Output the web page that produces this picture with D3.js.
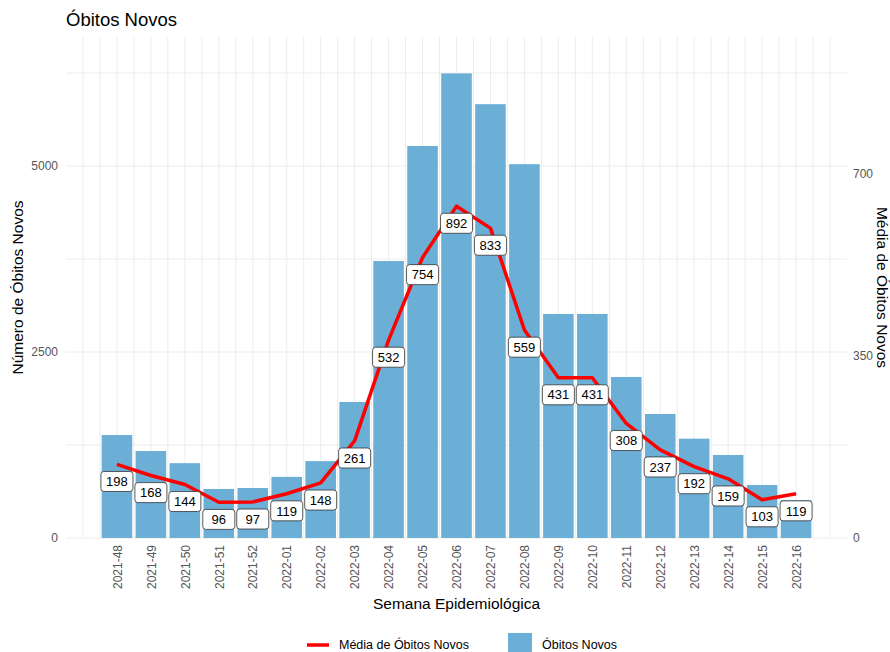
<!DOCTYPE html>
<html>
<head>
<meta charset="utf-8">
<script src="https://cdn.jsdelivr.net/npm/d3@7"></script>
<style>
  body { margin: 0; background: #fff; }
  text { font-family: "Liberation Sans", Arial, sans-serif; }
</style>
</head>
<body>
<svg id="chart"></svg>
<script>
// weeks, weekly deaths (bars) and daily average (line, labels)
var semanas = ["2021-48", "2021-49", "2021-50", "2021-51", "2021-52", "2022-01", "2022-02",
  "2022-03", "2022-04", "2022-05", "2022-06", "2022-07", "2022-08", "2022-09", "2022-10",
  "2022-11", "2022-12", "2022-13", "2022-14", "2022-15", "2022-16"];
var obitos = [1384, 1169, 1006, 659, 672, 822, 1033, 1828, 3723, 5269, 6245, 5831, 5025,
  3011, 3011, 2164, 1667, 1335, 1116, 712, 510];
var media = [198, 168, 144, 96, 97, 119, 148, 261, 532, 754, 892, 833, 559, 431, 431,
  308, 237, 192, 159, 103, 119];
var leftTicks = [0, 2500, 5000];
var rightTicks = [0, 350, 700];

var W = 890, H = 652;
var margin = { top: 37, right: 43, bottom: 114, left: 66 };
var width = W - margin.left - margin.right;
var height = H - margin.top - margin.bottom;

var lineScale = 5;   // line drawn as media * 5 on the primary axis
var secScale = 7;    // secondary axis labels = primary / 7

var svg = d3.select("#chart").attr("width", W).attr("height", H);

svg.append("text")
  .attr("x", margin.left).attr("y", 26)
  .attr("font-size", 18.5).attr("fill", "#000")
  .text("Óbitos Novos");

var g = svg.append("g")
  .attr("transform", "translate(" + margin.left + "," + margin.top + ")");

var x = d3.scalePoint()
  .domain(semanas)
  .range([0, width])
  .padding(1.5);
var step = x.step();
var bw = step * 0.9;

var y = d3.scaleLinear()
  .domain([0, 6734])
  .range([height, 0]);

// grid
var gridY = d3.range(0, 6251, 1250);
g.selectAll(".hgrid")
  .data(gridY)
  .enter().append("line")
  .attr("x1", 0).attr("x2", width)
  .attr("y1", d => y(d)).attr("y2", d => y(d))
  .attr("stroke", "#ececec").attr("stroke-width", 1);

var gridX = d3.range(-2, 2 * semanas.length + 1).map(k => k / 2);
g.selectAll(".vgrid")
  .data(gridX)
  .enter().append("line")
  .attr("x1", d => x(semanas[0]) + d * step)
  .attr("x2", d => x(semanas[0]) + d * step)
  .attr("y1", 0).attr("y2", height)
  .attr("stroke", "#ececec").attr("stroke-width", 1);

// bars
g.selectAll(".bar")
  .data(semanas)
  .enter().append("rect")
  .attr("x", d => x(d) - bw / 2)
  .attr("y", (d, i) => y(obitos[i]))
  .attr("width", bw)
  .attr("height", (d, i) => height - y(obitos[i]))
  .attr("fill", "#6baed6");

// line
var line = d3.line()
  .x((d, i) => x(semanas[i]))
  .y(d => y(d * lineScale));
g.append("path")
  .datum(media)
  .attr("d", line)
  .attr("fill", "none")
  .attr("stroke", "#ff0000")
  .attr("stroke-width", 3.5)
  .attr("stroke-linejoin", "round");

// labels
var lab = g.selectAll(".lab")
  .data(media)
  .enter().append("g")
  .attr("transform", (d, i) => "translate(" + x(semanas[i]) + "," + y(d * lineScale - 230) + ")");
lab.append("rect")
  .attr("x", -16).attr("y", -10)
  .attr("width", 32).attr("height", 20)
  .attr("rx", 3)
  .attr("fill", "#fff").attr("stroke", "#333").attr("stroke-width", 0.8);
lab.append("text")
  .attr("text-anchor", "middle").attr("dy", "0.36em")
  .attr("font-size", 13).attr("fill", "#000")
  .text(d => d);

function styleTicks(sel) {
  sel.select(".domain").remove();
  sel.selectAll("text")
    .attr("font-size", 12)
    .style("fill", "#555")
    .style("font-family", "Liberation Sans, Arial, sans-serif");
}

// axes
var axL = g.append("g")
  .call(d3.axisLeft(y).tickValues(leftTicks).tickFormat(d3.format("d"))
    .tickSize(0).tickPadding(8));
styleTicks(axL);

var axR = g.append("g")
  .attr("transform", "translate(" + width + ",0)")
  .call(d3.axisRight(y).tickValues(rightTicks.map(d => d * secScale))
    .tickFormat((d, i) => rightTicks[i]).tickSize(0).tickPadding(6));
styleTicks(axR);

var axB = g.append("g")
  .attr("transform", "translate(0," + height + ")")
  .call(d3.axisBottom(x).tickSize(0).tickPadding(0));
styleTicks(axB);
axB.selectAll("text")
  .attr("text-anchor", "end")
  .attr("transform", "translate(0,7)rotate(-90)")
  .attr("x", 0).attr("y", 0).attr("dy", "0.35em");

// axis titles
svg.append("text")
  .attr("x", margin.left + width / 2).attr("y", 609)
  .attr("text-anchor", "middle").attr("font-size", 15.5)
  .text("Semana Epidemiológica");
svg.append("text")
  .attr("transform", "translate(23," + (margin.top + height / 2) + ")rotate(-90)")
  .attr("text-anchor", "middle").attr("font-size", 15.5)
  .text("Número de Óbitos Novos");
svg.append("text")
  .attr("transform", "translate(877," + (margin.top + height / 2) + ")rotate(90)")
  .attr("text-anchor", "middle").attr("font-size", 15.5)
  .text("Média de Óbitos Novos");

// legend
var leg = svg.append("g");
leg.append("line")
  .attr("x1", 307).attr("x2", 329).attr("y1", 645).attr("y2", 645)
  .attr("stroke", "#ff0000").attr("stroke-width", 3.5);
leg.append("text")
  .attr("x", 339).attr("y", 645).attr("dy", "0.35em")
  .attr("font-size", 12.5).attr("fill", "#000")
  .text("Média de Óbitos Novos");
leg.append("rect")
  .attr("x", 508).attr("y", 633).attr("width", 24).attr("height", 24)
  .attr("fill", "#6baed6");
leg.append("text")
  .attr("x", 542).attr("y", 645).attr("dy", "0.35em")
  .attr("font-size", 12.5).attr("fill", "#000")
  .text("Óbitos Novos");
</script>
</body>
</html>
